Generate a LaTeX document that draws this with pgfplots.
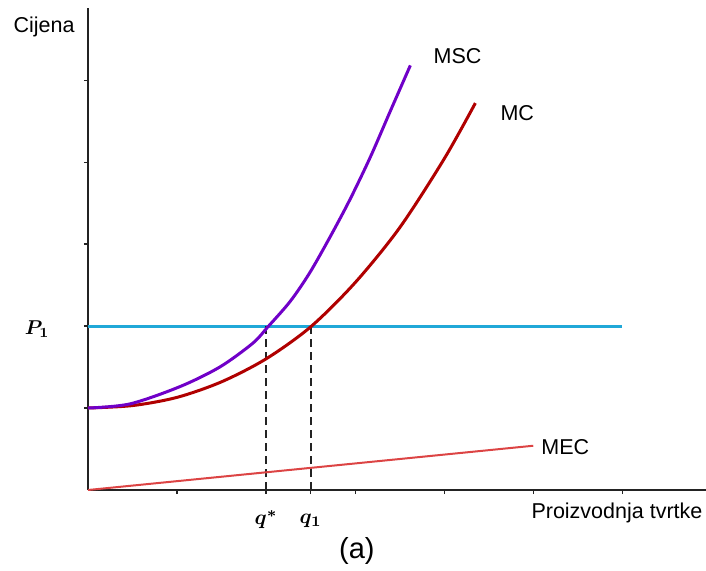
\documentclass[border=0pt]{standalone}
\usepackage{pgfplots}
\pgfplotsset{compat=1.18}
\usepackage{amsmath}
\usepackage{bm}
\usepackage{fontspec}
\setmainfont{Liberation Sans}
\definecolor{mscc}{RGB}{112,0,200}
\definecolor{mcc}{RGB}{176,0,0}
\definecolor{mecc}{RGB}{220,68,68}
\definecolor{pc}{RGB}{32,168,216}
\definecolor{axc}{RGB}{35,35,35}
\begin{document}
\begin{tikzpicture}
\useasboundingbox (-88pt,-80pt) rectangle (618pt,490pt);
\begin{axis}[
  at={(0,0)}, anchor=origin,
  scale only axis, width=618pt, height=482pt,
  xmin=0, xmax=6.94, ymin=0, ymax=5.88,
  axis lines=left, axis line style={-, axc, line width=2pt},
  clip=false,
  xtick={1,2,2.5,3,4,5,6},
  xticklabels={},
  ytick={1,2,3,4,5},
  yticklabels={},
  tick align=outside, major tick length=4pt,
  tick style={axc, line width=1.2pt},
]
\addplot[pc, line width=3pt] coordinates {(0,2) (6,2)};
\addplot[axc, line width=2pt, dash pattern=on 8pt off 5pt] coordinates {(2,0) (2,2)};
\addplot[axc, line width=2pt, dash pattern=on 8pt off 5pt] coordinates {(2.5,0) (2.5,2)};
\addplot[mecc, line width=2pt] coordinates {(0,0) (5,0.54)};
\addplot[mcc, line width=3pt, smooth] coordinates {
(0,1) (0.5,1.03) (1,1.13) (1.5,1.32) (2,1.60) (2.5,1.99) (3,2.53) (3.5,3.20) (4,4.04) (4.35,4.72)};
\addplot[mscc, line width=3pt, smooth] coordinates {
(0,1) (0.47,1.05) (1.03,1.26) (1.48,1.50) (1.85,1.79) (2.02,1.99) (2.27,2.30) (2.49,2.65) (2.72,3.09) (2.94,3.54) (3.17,4.06) (3.39,4.61) (3.62,5.18)};
\node[scale=2.1] at (axis cs:2.0,-0.36) {$\bm{q^*}$};
\node[scale=2.1] at (axis cs:2.5,-0.38) {$\bm{q_1}$};
\node[scale=2.0] at (axis cs:-0.57,1.96) {$\bm{P_1}$};
\node[font=\fontsize{21.5}{25}\selectfont] at (axis cs:-0.494,5.65) {Cijena};
\node[font=\fontsize{21.5}{25}\selectfont] at (axis cs:4.15,5.29) {MSC};
\node[font=\fontsize{21.5}{25}\selectfont] at (axis cs:4.82,4.60) {MC};
\node[font=\fontsize{21.5}{25}\selectfont] at (axis cs:5.36,0.52) {MEC};
\node[font=\fontsize{21.5}{25}\selectfont] at (axis cs:5.94,-0.28) {Proizvodnja tvrtke};
\node[font=\fontsize{29}{33}\selectfont] at (axis cs:3.02,-0.74) {(a)};
\end{axis}
\end{tikzpicture}
\end{document}
